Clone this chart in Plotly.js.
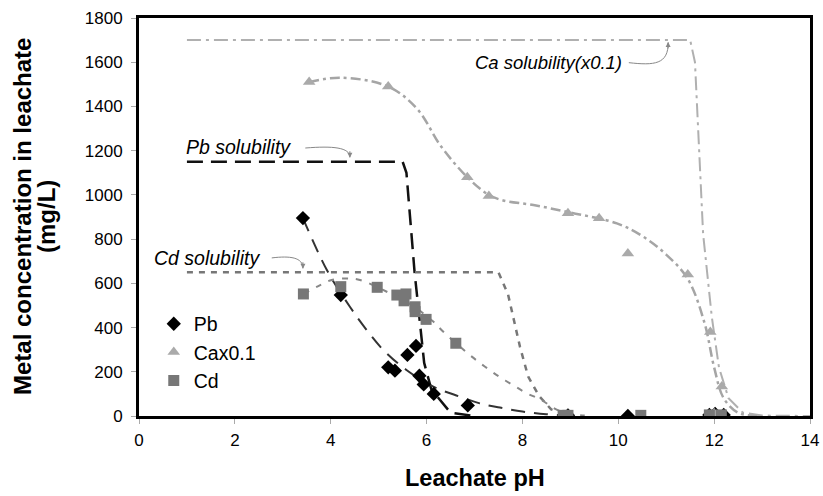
<!DOCTYPE html>
<html>
<head>
<meta charset="utf-8">
<script src="https://cdn.plot.ly/plotly-3.0.1.min.js"></script>
<style>html,body{margin:0;padding:0;background:#fff;}#chart{width:823px;height:496px;}</style>
</head>
<body>
<div id="chart"></div>
<script>
// Measured data
const pbPH   = [3.42, 4.21, 5.20, 5.34, 5.60, 5.78, 5.85, 5.94, 6.15, 6.86, 8.95, 10.20, 11.90, 12.02, 12.20];
const pbConc = [895, 547, 220, 205, 276, 317, 182, 143, 100, 48, 3, 0, 5, 10, 5];

const caPH   = [3.55, 5.20, 6.85, 7.30, 8.95, 9.60, 10.20, 11.45, 11.92, 12.16, 12.00];
const caConc = [1510, 1490, 1080, 995, 917, 894, 735, 640, 380, 133, 12];

const cdPH   = [3.43, 4.21, 4.97, 5.38, 5.57, 5.53, 5.76, 5.76, 5.99, 6.61, 8.85, 8.95, 10.47, 11.90, 12.15];
const cdConc = [552, 585, 582, 547, 552, 521, 494, 472, 437, 329, 3, 3, 3, 5, 5];

// Fitted trend curves
const pbFitPH   = [3.42, 3.92, 4.40, 4.75, 5.10, 5.58, 6.14, 6.70, 7.11, 7.53, 8.0, 8.5, 9.0];
const pbFitConc = [895, 660, 494, 389, 298, 208, 133, 87, 57, 38, 20, 8, 2];

const cdFitPH   = [3.43, 3.78, 4.02, 4.33, 4.61, 5.17, 5.70, 6.14, 6.35, 6.90, 7.22, 7.50, 7.80, 8.09, 8.40, 8.65, 8.92, 9.3];
const cdFitConc = [552, 592, 615, 622, 615, 562, 500, 427, 381, 276, 223, 180, 140, 103, 72, 36, 12, 2];

const caFitPH   = [3.55, 4.2, 5.2, 5.8, 6.3, 6.85, 7.3, 7.6, 8.23, 9.0, 9.97, 10.52, 11.0, 11.45, 11.8, 12.0, 12.2, 12.5, 12.9];
const caFitConc = [1510, 1530, 1490, 1390, 1220, 1080, 1000, 975, 954, 920, 871, 811, 730, 620, 420, 220, 80, 15, 0];

// Solubility limits
const pbSolPH   = [1.0, 5.50, 5.58, 5.75, 5.95, 6.10, 6.50, 7.0];
const pbSolConc = [1150, 1150, 1100, 650, 240, 120, 15, 0];

const cdSolPH   = [1.0, 7.50, 7.70, 7.95, 8.12, 8.35, 8.60, 9.0];
const cdSolConc = [650, 650, 550, 312, 178, 90, 30, 0];

const caSolPH   = [1.0, 11.50, 11.60, 11.77, 11.95, 12.10, 12.30, 12.60, 13.0, 14.0];
const caSolConc = [1700, 1700, 1600, 823, 450, 220, 80, 15, 2, 0];

const xTicks = [0, 2, 4, 6, 8, 10, 12, 14];
const yTicks = [0, 200, 400, 600, 800, 1000, 1200, 1400, 1600, 1800];

const FONT = 'Liberation Sans, Arial, sans-serif';

const traces = [
  {x: caSolPH, y: caSolConc, mode: 'lines', line: {color: '#b0b0b0', width: 2, dash: '14px,5px,3px,5px'}, showlegend: false, hoverinfo: 'skip'},
  {x: pbSolPH, y: pbSolConc, mode: 'lines', line: {color: '#111', width: 2.5, dash: '16px,8px'}, showlegend: false, hoverinfo: 'skip'},
  {x: cdSolPH, y: cdSolConc, mode: 'lines', line: {color: '#777', width: 2.5, dash: '6px,6px'}, showlegend: false, hoverinfo: 'skip'},
  {x: caFitPH, y: caFitConc, mode: 'lines', line: {color: '#a5a5a5', width: 2.5, shape: 'spline', dash: '10px,4px,3px,4px'}, showlegend: false, hoverinfo: 'skip'},
  {x: pbFitPH, y: pbFitConc, mode: 'lines', line: {color: '#333', width: 2, shape: 'spline', dash: '14px,9px'}, showlegend: false, hoverinfo: 'skip'},
  {x: cdFitPH, y: cdFitConc, mode: 'lines', line: {color: '#888', width: 2, shape: 'spline', dash: '6px,8px'}, showlegend: false, hoverinfo: 'skip'},
  {x: pbPH, y: pbConc, name: 'Pb', legendgroup: 'a', mode: 'markers', marker: {symbol: 'diamond', color: '#000', size: 11}},
  {x: caPH, y: caConc, name: 'Cax0.1', legendgroup: 'b', mode: 'markers', marker: {symbol: 'triangle-up', color: '#aaa', size: 11}},
  {x: cdPH, y: cdConc, name: 'Cd', legendgroup: 'c', mode: 'markers', marker: {symbol: 'square', color: '#777', size: 11}}
];

const arrowColor = '#888';
const layout = {
  width: 823, height: 496,
  margin: {l: 139, r: 13, t: 18, b: 80},
  paper_bgcolor: '#fff', plot_bgcolor: '#fff',
  font: {family: FONT, size: 17, color: '#000'},
  showlegend: true,
  legend: {x: 0.022, y: 0.28, xanchor: 'left', yanchor: 'top', bgcolor: 'rgba(0,0,0,0)', font: {size: 19.5}, tracegroupgap: 0},
  xaxis: {
    range: [0, 14], tickvals: xTicks, ticktext: xTicks.map(String),
    showgrid: false, zeroline: false, showline: true, mirror: true, linecolor: '#000', linewidth: 3,
    ticks: 'outside', ticklen: 5, tickcolor: '#aaa', tickwidth: 1,
    tickfont: {size: 17}, ticklabelstandoff: 2
  },
  yaxis: {
    range: [0, 1800], tickvals: yTicks, ticktext: yTicks.map(String),
    showgrid: false, zeroline: false, showline: true, mirror: true, linecolor: '#000', linewidth: 3,
    ticks: 'outside', ticklen: 5, tickcolor: '#aaa', tickwidth: 1,
    tickfont: {size: 17}, ticklabelstandoff: 5
  },
  annotations: [
    {xref: 'paper', yref: 'paper', x: 0.5, y: 0, yshift: -62, xanchor: 'center', yanchor: 'middle', text: '<b>Leachate pH</b>', showarrow: false, font: {size: 23.5}},
    {xref: 'paper', yref: 'paper', x: 0, y: 0.5, xshift: -117, xanchor: 'center', yanchor: 'middle', textangle: -90, text: '<b>Metal concentration in leachate</b>', showarrow: false, font: {size: 24}},
    {xref: 'paper', yref: 'paper', x: 0, y: 0.5, xshift: -93, xanchor: 'center', yanchor: 'middle', textangle: -90, text: '<b>(mg/L)</b>', showarrow: false, font: {size: 24}},
    {x: 8.55, y: 1601, xref: 'x', yref: 'y', text: '<i>Ca solubility(x0.1)</i>', showarrow: false, font: {size: 18.5}},
    {x: 2.07, y: 1217, xref: 'x', yref: 'y', text: '<i>Pb solubility</i>', showarrow: false, font: {size: 19.5}},
    {x: 1.42, y: 715, xref: 'x', yref: 'y', text: '<i>Cd solubility</i>', showarrow: false, font: {size: 19.5}},
    {x: 11.04, y: 1692, xref: 'x', yref: 'y', ax: 0, ay: 8, text: '', showarrow: true, arrowhead: 2, arrowsize: 1, arrowwidth: 1, arrowcolor: arrowColor},
    {x: 4.40, y: 1168, xref: 'x', yref: 'y', ax: 0, ay: -8, text: '', showarrow: true, arrowhead: 2, arrowsize: 1, arrowwidth: 1, arrowcolor: arrowColor},
    {x: 3.42, y: 666, xref: 'x', yref: 'y', ax: 0, ay: -8, text: '', showarrow: true, arrowhead: 2, arrowsize: 1, arrowwidth: 1, arrowcolor: arrowColor}
  ],
  shapes: [
    {type: 'path', xref: 'x', yref: 'y', path: 'M 10.22 1598 C 10.75 1585, 11.05 1590, 11.04 1690', line: {color: arrowColor, width: 1}},
    {type: 'path', xref: 'x', yref: 'y', path: 'M 3.47 1212 C 4.05 1222, 4.40 1215, 4.40 1170', line: {color: arrowColor, width: 1}},
    {type: 'path', xref: 'x', yref: 'y', path: 'M 2.77 715 C 3.15 725, 3.42 718, 3.42 668', line: {color: arrowColor, width: 1}}
  ]
};

Plotly.newPlot('chart', traces, layout, {displayModeBar: false, staticPlot: true});
</script>
</body>
</html>
